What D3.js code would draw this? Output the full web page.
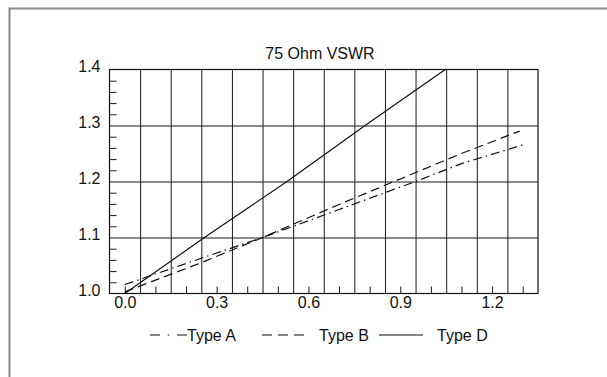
<!DOCTYPE html>
<html><head><meta charset="utf-8">
<script src="https://cdn.jsdelivr.net/npm/d3@7"></script>
<style>
html,body{margin:0;padding:0;background:#fff;}
text{font-family:"Liberation Sans",Arial,Helvetica,sans-serif;fill:#111;}
</style></head>
<body><svg id="chart" width="607" height="377"></svg>
<script>
// ---- data ----
const title = "75 Ohm VSWR";
const seriesNames = ["Type A", "Type B", "Type D"];
const typeA_x = [0.0, 0.25, 0.45, 0.70, 0.95, 1.10, 1.31];
const typeA_y = [1.016, 1.063, 1.100, 1.150, 1.200, 1.232, 1.267];
const typeB_x = [0.0, 0.25, 0.45, 0.70, 0.88, 1.10, 1.29];
const typeB_y = [1.003, 1.055, 1.100, 1.159, 1.200, 1.250, 1.290];
const typeD_x = [0.0, 0.26, 0.53, 0.785, 1.047];
const typeD_y = [1.000, 1.100, 1.200, 1.300, 1.400];
const xTickLabels = [0.0, 0.3, 0.6, 0.9, 1.2];
const xMinorTicks = [0.0,0.1,0.2,0.3,0.4,0.5,0.6,0.7,0.8,0.9,1.0,1.1,1.2,1.3];
const xGrid = [0.05,0.15,0.25,0.35,0.45,0.55,0.65,0.75,0.85,0.95,1.05,1.15,1.25];
const yTickLabels = [1.0, 1.1, 1.2, 1.3, 1.4];
const yMinorTicks = [1.02,1.04,1.06,1.08,1.12,1.14,1.16,1.18,1.22,1.24,1.26,1.28,1.32,1.34,1.36,1.38];
const yGrid = [1.1, 1.2, 1.3];

const svg = d3.select("#chart");
const FS = "16px";
const L = 109.5, R = 538, T = 69.5, B = 293.5;
const x = d3.scaleLinear().domain([-0.05, 1.35]).range([L, R]);
const y = d3.scaleLinear().domain([1.0, 1.4]).range([B, T]);

// outer page frame (top + left only)
svg.append("path").attr("d", `M9.5,377 L9.5,8.5 L607,8.5`)
  .attr("fill","none").attr("stroke","#8a8a8a").attr("stroke-width",2);

// title
svg.append("text").attr("x", 320).attr("y", 59).attr("text-anchor","middle")
  .style("font-size",FS).text(title);

// grid
const gx = svg.append("g").attr("transform",`translate(0,${B})`)
  .call(d3.axisBottom(x).tickValues(xGrid).tickSize(-(B-T)).tickFormat(""));
gx.select(".domain").remove();
gx.selectAll("line").attr("stroke","#1a1a1a").attr("stroke-width",1);
const gy = svg.append("g").attr("transform",`translate(${L},0)`)
  .call(d3.axisLeft(y).tickValues(yGrid).tickSize(-(R-L)).tickFormat(""));
gy.select(".domain").remove();
gy.selectAll("line").attr("stroke","#1a1a1a").attr("stroke-width",1);

// minor ticks (inside)
const mx = svg.append("g").attr("transform",`translate(0,${B})`)
  .call(d3.axisBottom(x).tickValues(xMinorTicks).tickSize(-7).tickFormat(""));
mx.select(".domain").remove();
mx.selectAll("line").attr("stroke","#1a1a1a");
const my = svg.append("g").attr("transform",`translate(${L},0)`)
  .call(d3.axisLeft(y).tickValues(yMinorTicks).tickSize(-7).tickFormat(""));
my.select(".domain").remove();
my.selectAll("line").attr("stroke","#1a1a1a");

// tick labels
const lx = svg.append("g").attr("transform",`translate(0,${B})`)
  .call(d3.axisBottom(x).tickValues(xTickLabels).tickSize(0).tickPadding(3).tickFormat(d3.format(".1f")));
lx.select(".domain").remove();
lx.selectAll("text").style("font-size",FS).style("font-family",'"Liberation Sans",Arial,sans-serif').attr("fill","#111");
const ly = svg.append("g").attr("transform",`translate(${L},0)`)
  .call(d3.axisLeft(y).tickValues(yTickLabels).tickSize(0).tickPadding(9).tickFormat(d3.format(".1f")));
ly.select(".domain").remove();
ly.selectAll("text").style("font-size",FS).style("font-family",'"Liberation Sans",Arial,sans-serif').attr("fill","#111").attr("dy","0.1em");

// plot frame
svg.append("rect").attr("x",L).attr("y",T).attr("width",R-L).attr("height",B-T)
  .attr("fill","none").attr("stroke","#111").attr("stroke-width",1.2);

// series
const dashes = ["9,4,1.5,4", "9,5", null];
const legendDashes = ["10,7.75,1.5,7.75", "10,6", null];
const seriesData = [
  typeA_x.map((v,i)=>[v,typeA_y[i]]),
  typeB_x.map((v,i)=>[v,typeB_y[i]]),
  typeD_x.map((v,i)=>[v,typeD_y[i]])
];
const line = d3.line().x(d=>x(d[0])).y(d=>y(d[1]));
seriesData.forEach((d,i)=>{
  svg.append("path").attr("d", line(d)).attr("fill","none")
    .attr("stroke","#111").attr("stroke-width",1.2)
    .attr("stroke-dasharray", dashes[i]);
});

// legend
const legItems = [
  {x0:150, x1:187, tx:187},
  {x0:262, x1:304, tx:319},
  {x0:379, x1:423, tx:437}
];
const ly0 = 335;
seriesNames.forEach((n,i)=>{
  const it = legItems[i];
  svg.append("line").attr("x1",it.x0).attr("x2",it.x1).attr("y1",ly0).attr("y2",ly0)
    .attr("stroke","#111").attr("stroke-width",1.2).attr("stroke-dasharray",legendDashes[i]);
  svg.append("text").attr("x",it.tx).attr("y",ly0+6).style("font-size",FS).text(n);
});
</script></body></html>
